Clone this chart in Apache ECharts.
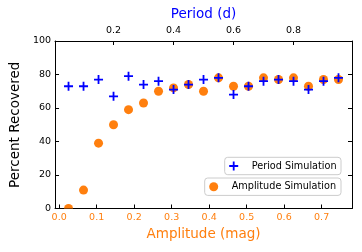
<!DOCTYPE html>
<html>
<head>
<meta charset="utf-8">
<script src="https://cdn.jsdelivr.net/npm/echarts@6/dist/echarts.min.js"></script>
<style>
html,body{margin:0;padding:0;background:#fff;}
#chart{width:362px;height:252px;}
</style>
</head>
<body>
<div id="chart"></div>
<script>
// Data
const amplitudes = [0.025, 0.065, 0.105, 0.145, 0.185, 0.225, 0.265, 0.305, 0.345, 0.385,
                    0.425, 0.465, 0.505, 0.545, 0.585, 0.625, 0.665, 0.705, 0.745];
const amplitudeRecovered = [0, 11, 39, 50, 59, 63, 70, 72, 74, 70,
                            78, 73, 73, 78, 77, 78, 73, 77, 77];
const periods = [0.05, 0.10, 0.15, 0.20, 0.25, 0.30, 0.35, 0.40, 0.45, 0.50,
                 0.55, 0.60, 0.65, 0.70, 0.75, 0.80, 0.85, 0.90, 0.95];
const periodRecovered = [73, 73, 77, 67, 79, 74, 76, 71, 74, 77,
                         78, 68, 73, 76, 77, 76, 71, 76, 78];
const amplitudeTicks = [0.0, 0.1, 0.2, 0.3, 0.4, 0.5, 0.6, 0.7];
const periodTicks = [0.2, 0.4, 0.6, 0.8];
const percentTicks = [0, 20, 40, 60, 80, 100];

const FONT = 'DejaVu Sans';
const ORANGE = '#ff7f0e';
const BLUE = '#0000ff';
const PLUS = 'path://M4,0h2v4h4v2h-4v4h-2v-4h-4v-2h4z';

const chart = echarts.init(document.getElementById('chart'), null, {renderer: 'canvas'});

const tickStyle = {show: true, inside: true, length: 4, lineStyle: {color: '#000', width: 1}};
const lineStyle = {show: true, onZero: false, lineStyle: {color: '#000', width: 1}};

function legendCfg(name, icon, top, textWidth) {
  return {
    data: [{name: name, icon: icon}],
    right: 21, top: top,
    orient: 'vertical',
    itemWidth: 26, itemHeight: 9,
    padding: [2.7, 4.3, 2.7, 4.5],
    borderColor: '#cccccc', borderWidth: 1, borderRadius: 3,
    backgroundColor: 'rgba(255,255,255,0.8)',
    textStyle: {color: '#000', fontFamily: FONT, fontSize: 9.7, lineHeight: 12,
                width: textWidth, overflow: 'none'}
  };
}

chart.setOption({
  animation: false,
  backgroundColor: '#fff',
  grid: {left: 52, right: 10, top: 41, bottom: 43.5, containLabel: false},
  xAxis: [
    {
      type: 'value', position: 'bottom', min: -0.011, max: 0.781,
      axisLine: lineStyle,
      axisTick: Object.assign({}, tickStyle, {customValues: amplitudeTicks}),
      axisLabel: {customValues: amplitudeTicks, color: ORANGE, fontFamily: FONT, fontSize: 9.5, margin: 4,
                  formatter: v => v.toFixed(1)},
      splitLine: {show: false},
      name: 'Amplitude (mag)', nameLocation: 'middle', nameGap: 17,
      nameTextStyle: {color: ORANGE, fontFamily: FONT, fontSize: 13.5}
    },
    {
      type: 'value', position: 'top', min: 0.005, max: 0.995,
      axisLine: lineStyle,
      axisTick: Object.assign({}, tickStyle, {customValues: periodTicks}),
      axisLabel: {customValues: periodTicks, color: '#000', fontFamily: FONT, fontSize: 9.5, margin: 5,
                  formatter: v => v.toFixed(1)},
      splitLine: {show: false},
      name: 'Period (d)', nameLocation: 'middle', nameGap: 18,
      nameTextStyle: {color: BLUE, fontFamily: FONT, fontSize: 13.5}
    }
  ],
  yAxis: [
    {
      type: 'value', position: 'left', min: 0, max: 100, interval: 20,
      axisLine: lineStyle,
      axisTick: tickStyle,
      axisLabel: {color: '#000', fontFamily: FONT, fontSize: 9.5, margin: 4},
      splitLine: {show: false},
      name: 'Percent Recovered', nameLocation: 'middle', nameGap: 28,
      nameTextStyle: {color: '#000', fontFamily: FONT, fontSize: 13.5}
    },
    {
      type: 'value', position: 'right', min: 0, max: 100, interval: 20,
      axisLine: lineStyle,
      axisTick: tickStyle,
      axisLabel: {show: false},
      splitLine: {show: false}
    }
  ],
  legend: [
    legendCfg('Period Simulation', PLUS, 157.3, 85),
    legendCfg('Amplitude Simulation', 'circle', 178, 105)
  ],
  series: [
    {
      name: 'Amplitude Simulation', type: 'custom', xAxisIndex: 0, yAxisIndex: 0,
      clip: true, z: 2,
      itemStyle: {color: ORANGE},
      encode: {x: 0, y: 1},
      renderItem: function (params, api) {
        const p = api.coord([api.value(0), api.value(1)]);
        return {type: 'circle', shape: {cx: p[0], cy: p[1], r: 4.5}, style: {fill: ORANGE}};
      },
      data: amplitudes.map((a, i) => [a, amplitudeRecovered[i]])
    },
    {
      name: 'Period Simulation', type: 'scatter', xAxisIndex: 1, yAxisIndex: 0,
      symbol: PLUS, symbolSize: 9, clip: true, z: 3,
      itemStyle: {color: BLUE, opacity: 1},
      data: periods.map((p, i) => [p, periodRecovered[i]])
    }
  ]
});
</script>
</body>
</html>
